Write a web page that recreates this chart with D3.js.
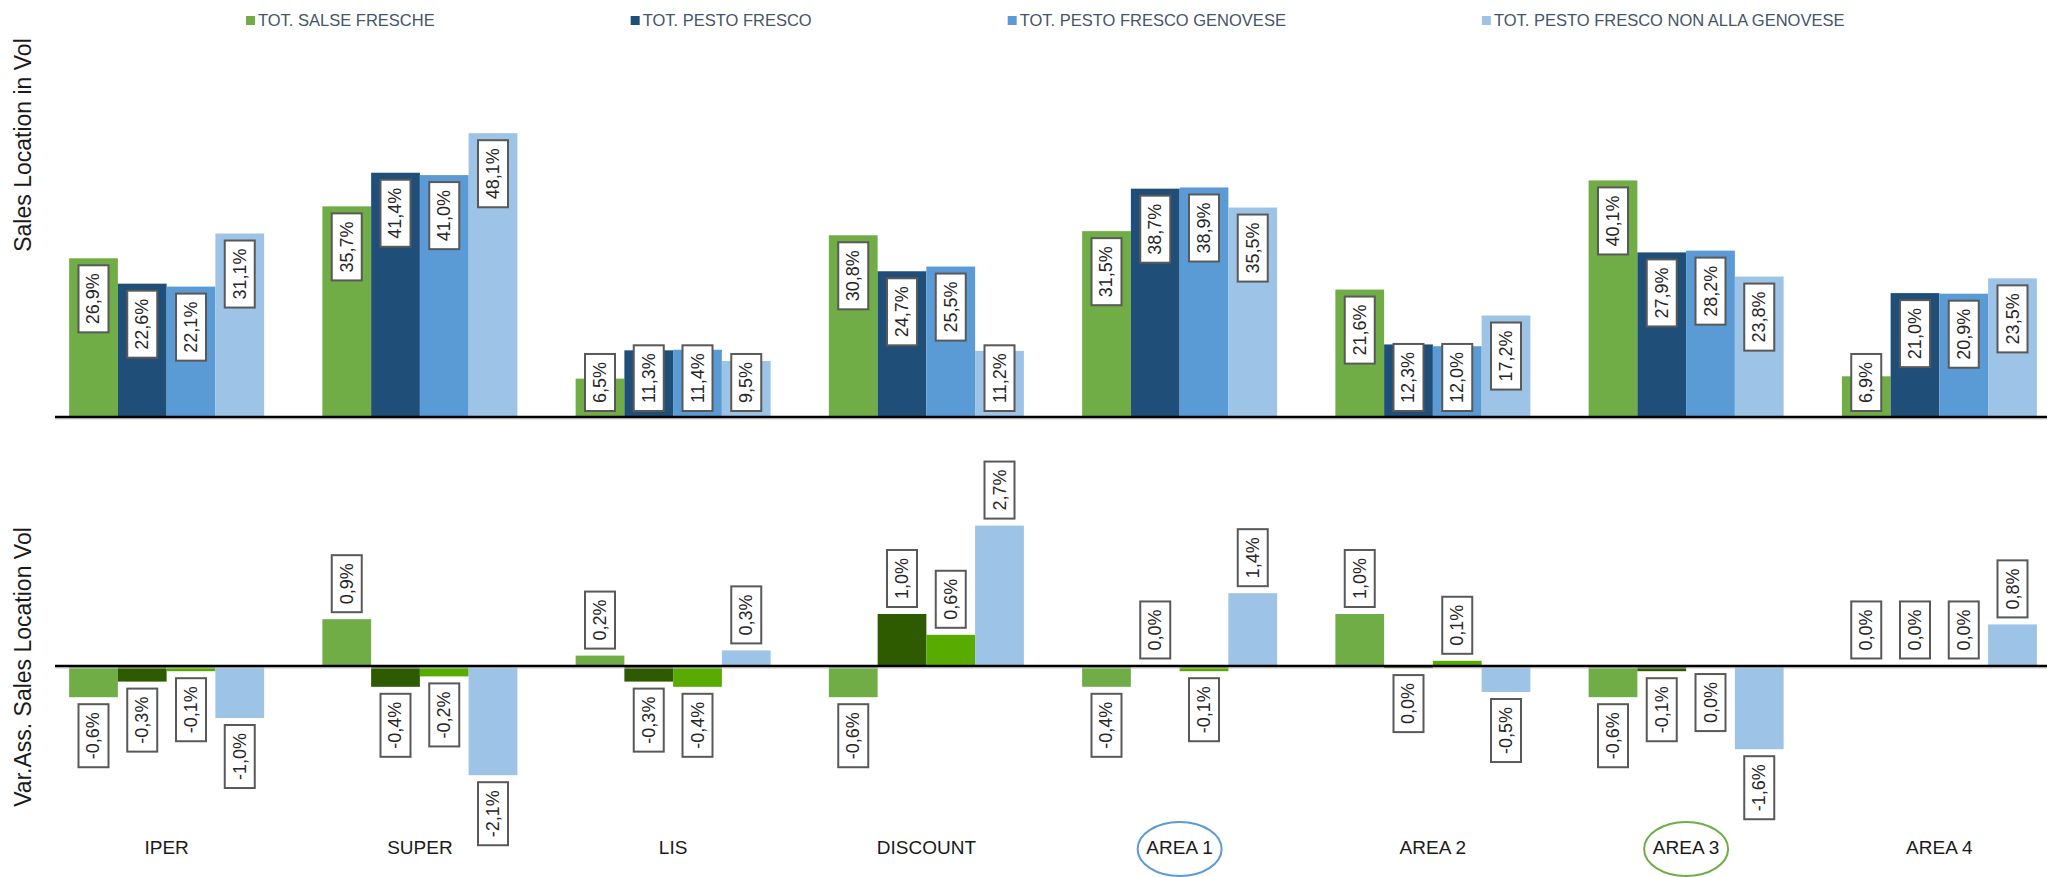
<!DOCTYPE html>
<html>
<head>
<meta charset="utf-8">
<script src="https://cdn.jsdelivr.net/npm/d3@7"></script>
<style>
  html, body { margin: 0; padding: 0; background: #ffffff; }
  svg { display: block; font-family: "Liberation Sans", Arial, sans-serif; }
</style>
</head>
<body>
<svg id="chart" width="2047" height="877"></svg>
<script>
// Channels and areas
const categories = ["IPER", "SUPER", "LIS", "DISCOUNT", "AREA 1", "AREA 2", "AREA 3", "AREA 4"];
const seriesNames = [
  "TOT. SALSE FRESCHE",
  "TOT. PESTO FRESCO",
  "TOT. PESTO FRESCO GENOVESE",
  "TOT. PESTO FRESCO NON ALLA GENOVESE"
];

// Sales location share in volume (%)
const salesSalseFresche     = [26.9, 35.7, 6.5, 30.8, 31.5, 21.6, 40.1, 6.9];
const salesPestoFresco      = [22.6, 41.4, 11.3, 24.7, 38.7, 12.3, 27.9, 21.0];
const salesPestoGenovese    = [22.1, 41.0, 11.4, 25.5, 38.9, 12.0, 28.2, 20.9];
const salesPestoNonGenovese = [31.1, 48.1, 9.5, 11.2, 35.5, 17.2, 23.8, 23.5];

// Absolute variation of sales location share (percentage points)
const varSalseFresche     = [-0.6, 0.9, 0.2, -0.6, -0.4, 1.0, -0.6, 0.01];
const varPestoFresco      = [-0.3, -0.4, -0.3, 1.0, 0.01, -0.04, -0.1, 0.01];
const varPestoGenovese    = [-0.1, -0.2, -0.4, 0.6, -0.1, 0.1, -0.02, 0.01];
const varPestoNonGenovese = [-1.0, -2.1, 0.3, 2.7, 1.4, -0.5, -1.6, 0.8];

// Categories circled under the axis
const highlighted = ["AREA 1", "AREA 3"];

// ---- styles ----
const topColors = ["#70AD47", "#1F4E79", "#5B9BD5", "#9DC3E6"];
const bottomColors = ["#70AD47", "#2E5A00", "#58AB00", "#9DC3E6"];
const highlightColors = { "AREA 1": "#5B9BD5", "AREA 3": "#70AD47" };

const topSeries = [salesSalseFresche, salesPestoFresco, salesPestoGenovese, salesPestoNonGenovese];
const bottomSeries = [varSalseFresche, varPestoFresco, varPestoGenovese, varPestoNonGenovese];

const svg = d3.select("#chart");

const x0 = d3.scaleBand().domain(categories).range([40, 2066]).paddingInner(0.23).paddingOuter(0.115);
const x1 = d3.scaleBand().domain(d3.range(4)).range([0, x0.bandwidth()]);

const yTop = d3.scaleLinear().domain([0, 50]).range([417, 122]);
const yBot = d3.scaleLinear().domain([-2.5, 3]).range([796, 510]);

const fmt = v => {
  let s = v.toFixed(1);
  if (s === "-0.0") s = "0.0";
  return s.replace(".", ",") + "%";
};

function rows(seriesList) {
  const out = [];
  categories.forEach((c, i) => seriesList.forEach((s, k) => out.push({ cat: c, k, v: s[i] })));
  return out;
}

// Label box: white box with rotated text
const LBL_W = 30, LBL_PAD = 8, GAP = 7;
function addLabel(g, cx, text, placeFn) {
  const grp = g.append("g");
  const t = grp.append("text")
    .attr("text-anchor", "middle")
    .attr("dominant-baseline", "central")
    .attr("font-size", 18)
    .attr("fill", "#262626")
    .text(text);
  const len = t.node().getComputedTextLength() + LBL_PAD * 2;
  const [y0, y1] = placeFn(len);
  grp.insert("rect", "text")
    .attr("x", cx - LBL_W / 2)
    .attr("y", y0)
    .attr("width", LBL_W)
    .attr("height", y1 - y0)
    .attr("fill", "#ffffff")
    .attr("stroke", "#595959")
    .attr("stroke-width", 2);
  t.attr("transform", `translate(${cx},${(y0 + y1) / 2}) rotate(-90)`);
}

// ---- legend ----
const legend = svg.append("g").attr("class", "legend");
let lx = 246;
seriesNames.forEach((name, k) => {
  legend.append("rect").attr("x", lx).attr("y", 16).attr("width", 9).attr("height", 9).attr("fill", topColors[k]);
  const t = legend.append("text")
    .attr("x", lx + 12).attr("y", 26)
    .attr("font-size", 16.5).attr("fill", "#44546A")
    .text(name);
  lx += 12 + t.node().getComputedTextLength() + 196;
});

// ---- top panel: sales location ----
const topPanel = svg.append("g").attr("class", "top-panel");
const topRows = rows(topSeries);
topPanel.selectAll("rect.bar").data(topRows).join("rect")
  .attr("class", "bar")
  .attr("x", d => x0(d.cat) + x1(d.k))
  .attr("width", x1.bandwidth())
  .attr("y", d => yTop(d.v))
  .attr("height", d => yTop(0) - yTop(d.v))
  .attr("fill", d => topColors[d.k]);

topPanel.append("line").attr("x1", 55).attr("x2", 2047).attr("y1", yTop(0) + 2).attr("y2", yTop(0) + 2)
  .attr("stroke", "#c8c8c8").attr("stroke-width", 1);
topPanel.append("line").attr("x1", 55).attr("x2", 2047).attr("y1", yTop(0)).attr("y2", yTop(0))
  .attr("stroke", "#000").attr("stroke-width", 2.5);

topRows.forEach(d => {
  const cx = x0(d.cat) + x1(d.k) + x1.bandwidth() / 2;
  addLabel(topPanel, cx, fmt(d.v), len => {
    let a = yTop(d.v) + GAP;
    let b = a + len;
    const maxB = yTop(0) - 6;
    if (b > maxB) { b = maxB; a = b - len; }
    return [a, b];
  });
});

svg.append("text")
  .attr("transform", "translate(31,145) rotate(-90)")
  .attr("text-anchor", "middle")
  .attr("font-size", 23).attr("fill", "#1a1a1a")
  .text("Sales Location in Vol");

// ---- bottom panel: absolute variation ----
const botPanel = svg.append("g").attr("class", "bottom-panel");
const botRows = rows(bottomSeries);
botPanel.selectAll("rect.bar").data(botRows).join("rect")
  .attr("class", "bar")
  .attr("x", d => x0(d.cat) + x1(d.k))
  .attr("width", x1.bandwidth())
  .attr("y", d => Math.min(yBot(d.v), yBot(0)))
  .attr("height", d => Math.abs(yBot(d.v) - yBot(0)))
  .attr("fill", d => bottomColors[d.k]);

botPanel.append("line").attr("x1", 55).attr("x2", 2047).attr("y1", yBot(0) + 2).attr("y2", yBot(0) + 2)
  .attr("stroke", "#c8c8c8").attr("stroke-width", 1);
botPanel.append("line").attr("x1", 55).attr("x2", 2047).attr("y1", yBot(0)).attr("y2", yBot(0))
  .attr("stroke", "#000").attr("stroke-width", 2.5);

botRows.forEach(d => {
  const cx = x0(d.cat) + x1(d.k) + x1.bandwidth() / 2;
  addLabel(botPanel, cx, fmt(d.v), len => {
    if (d.v >= 0) {
      const b = yBot(d.v) - GAP;
      return [b - len, b];
    }
    const a = yBot(d.v) + GAP;
    return [a, a + len];
  });
});

svg.append("text")
  .attr("transform", "translate(31,667) rotate(-90)")
  .attr("text-anchor", "middle")
  .attr("font-size", 23).attr("fill", "#1a1a1a")
  .text("Var.Ass. Sales Location Vol");

// ---- category axis ----
const axisG = svg.append("g").attr("transform", "translate(0,854)");
axisG.call(d3.axisBottom(x0).tickSize(0).tickPadding(0))
  .call(g => g.select(".domain").remove())
  .call(g => g.selectAll("text")
    .attr("y", 0).attr("dy", 0)
    .attr("font-size", 19)
    .attr("font-family", "'Liberation Sans', Arial, sans-serif")
    .attr("fill", "#1a1a1a"));

highlighted.forEach(c => {
  svg.append("ellipse")
    .attr("cx", x0(c) + x0.bandwidth() / 2)
    .attr("cy", 849)
    .attr("rx", 42).attr("ry", 27)
    .attr("fill", "none")
    .attr("stroke", highlightColors[c])
    .attr("stroke-width", 2);
});
</script>
</body>
</html>
